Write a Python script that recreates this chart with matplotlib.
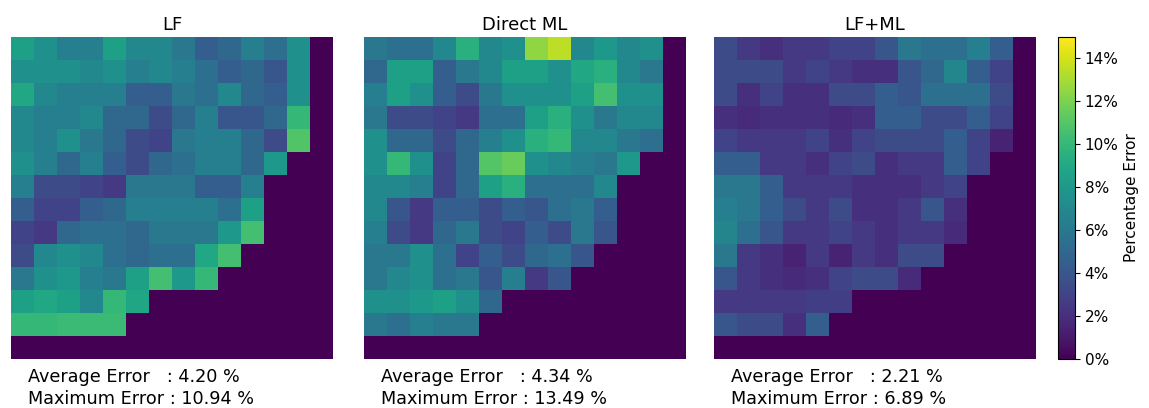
import matplotlib.pyplot as plt
import numpy as np
from matplotlib.ticker import FuncFormatter

# percentage error per grid cell (rows top -> bottom), 0 = outside domain
lf_err = [
    [8.5, 7.5, 6.5, 6.5, 8.5, 7.0, 7.0, 6.0, 4.5, 5.0, 6.5, 5.5, 7.5, 0],
    [7.5, 7.5, 7.5, 7.0, 7.5, 6.5, 7.0, 6.5, 5.5, 4.5, 5.0, 4.0, 7.5, 0],
    [9.0, 7.0, 6.5, 6.5, 6.5, 4.5, 4.5, 6.0, 5.5, 7.0, 5.0, 4.5, 7.5, 0],
    [7.0, 6.5, 6.5, 7.0, 5.0, 5.0, 3.5, 5.0, 6.5, 4.0, 4.0, 5.0, 10.0, 0],
    [7.0, 6.5, 7.5, 6.0, 5.0, 3.5, 3.0, 6.0, 6.5, 6.5, 5.0, 3.5, 10.9, 0],
    [7.5, 6.5, 5.0, 6.5, 4.5, 3.5, 5.0, 5.5, 6.5, 6.5, 5.0, 8.0, 0, 0],
    [6.5, 3.5, 3.5, 3.0, 2.5, 6.0, 6.0, 6.0, 4.5, 4.5, 6.5, 0, 0, 0],
    [4.5, 3.0, 3.0, 4.5, 5.0, 6.5, 6.5, 6.5, 6.5, 5.5, 8.5, 0, 0, 0],
    [3.0, 2.5, 5.0, 5.5, 5.5, 5.0, 6.0, 6.0, 6.0, 8.0, 10.5, 0, 0, 0],
    [3.5, 7.0, 7.5, 7.0, 5.5, 5.0, 5.5, 5.5, 9.0, 10.5, 0, 0, 0, 0],
    [6.0, 7.5, 8.0, 6.5, 6.0, 8.5, 10.5, 8.0, 10.0, 0, 0, 0, 0, 0],
    [8.5, 9.0, 8.5, 7.0, 10.0, 8.8, 0, 0, 0, 0, 0, 0, 0, 0],
    [10.0, 10.0, 10.2, 10.2, 10.2, 0, 0, 0, 0, 0, 0, 0, 0, 0],
    [0, 0, 0, 0, 0, 0, 0, 0, 0, 0, 0, 0, 0, 0],
]

ml_err = [
    [6.0, 5.5, 5.5, 7.0, 9.5, 7.0, 7.5, 12.5, 13.5, 7.0, 8.0, 7.0, 7.5, 0],
    [5.0, 8.5, 8.5, 4.5, 6.0, 7.0, 8.5, 8.5, 7.5, 9.0, 9.5, 7.0, 6.0, 0],
    [6.5, 8.5, 7.5, 4.5, 3.5, 6.0, 7.5, 7.5, 7.5, 8.5, 10.5, 7.5, 7.5, 0],
    [6.0, 3.5, 3.5, 3.0, 2.5, 5.5, 5.5, 8.5, 9.5, 7.5, 6.0, 7.0, 7.0, 0],
    [7.5, 5.0, 5.0, 3.5, 5.0, 6.5, 7.5, 9.5, 10.0, 7.0, 7.0, 6.0, 5.5, 0],
    [7.5, 10.0, 7.5, 3.0, 5.0, 11.0, 11.5, 7.5, 7.0, 6.5, 6.0, 8.0, 0, 0],
    [7.0, 7.0, 6.5, 3.0, 5.0, 8.5, 9.5, 5.5, 5.5, 5.5, 7.0, 0, 0, 0],
    [7.0, 4.0, 2.5, 4.5, 4.5, 3.5, 4.5, 4.0, 5.5, 6.0, 4.5, 0, 0, 0],
    [6.5, 3.5, 2.5, 5.0, 6.0, 3.5, 3.0, 4.5, 3.5, 6.0, 4.0, 0, 0, 0],
    [6.0, 6.0, 7.5, 5.5, 3.0, 4.5, 3.5, 5.0, 5.5, 4.0, 0, 0, 0, 0],
    [6.0, 7.0, 7.5, 5.5, 6.0, 4.0, 6.5, 2.5, 4.0, 0, 0, 0, 0, 0],
    [7.5, 7.5, 8.0, 8.5, 7.5, 5.0, 0, 0, 0, 0, 0, 0, 0, 0],
    [6.0, 5.5, 6.5, 6.0, 6.0, 0, 0, 0, 0, 0, 0, 0, 0, 0],
    [0, 0, 0, 0, 0, 0, 0, 0, 0, 0, 0, 0, 0, 0],
]

lfml_err = [
    [3.5, 2.5, 2.0, 2.5, 2.5, 3.0, 3.0, 4.0, 6.0, 5.5, 5.5, 6.5, 4.5, 0],
    [3.5, 3.5, 3.5, 2.5, 3.0, 2.5, 2.0, 2.0, 4.0, 5.0, 6.9, 4.5, 3.0, 0],
    [3.5, 2.0, 3.0, 2.0, 2.0, 3.5, 3.5, 4.5, 4.0, 5.5, 5.5, 5.5, 3.5, 0],
    [2.0, 1.8, 2.0, 2.0, 2.0, 1.8, 2.0, 4.5, 4.5, 3.5, 3.5, 4.5, 3.0, 0],
    [3.0, 2.5, 2.5, 2.5, 3.0, 2.0, 3.0, 3.5, 3.5, 3.5, 4.5, 3.0, 1.5, 0],
    [4.5, 4.5, 2.5, 2.5, 2.0, 3.0, 3.5, 2.0, 2.5, 2.5, 4.5, 3.0, 0, 0],
    [6.0, 6.0, 4.5, 2.5, 2.5, 2.5, 2.0, 2.0, 2.0, 2.5, 3.0, 0, 0, 0],
    [6.5, 6.0, 4.5, 3.5, 2.5, 3.5, 2.0, 2.0, 2.5, 4.0, 2.0, 0, 0, 0],
    [6.8, 5.5, 4.0, 2.5, 2.5, 3.0, 2.5, 2.0, 2.5, 2.5, 1.8, 0, 0, 0],
    [6.0, 2.5, 2.0, 1.5, 2.5, 1.5, 2.5, 2.0, 3.5, 3.5, 0, 0, 0, 0],
    [4.0, 2.5, 2.0, 1.8, 2.0, 3.0, 3.5, 3.5, 1.8, 0, 0, 0, 0, 0],
    [2.5, 2.5, 2.5, 2.5, 2.8, 2.8, 0, 0, 0, 0, 0, 0, 0, 0],
    [4.0, 3.5, 3.5, 2.0, 4.5, 0, 0, 0, 0, 0, 0, 0, 0, 0],
    [0, 0, 0, 0, 0, 0, 0, 0, 0, 0, 0, 0, 0, 0],
]

titles = ['LF', 'Direct ML', 'LF+ML']
avg_err = [4.20, 4.34, 2.21]
max_err = [10.94, 13.49, 6.89]
grids = [lf_err, ml_err, lfml_err]

fig = plt.figure(figsize=(11.49, 4.08), dpi=100)

lefts = [11 / 1149, 364 / 1149, 714 / 1149]
bottom = 49 / 408
w = 322 / 1149
h = 322 / 408

for i in range(3):
    ax = fig.add_axes([lefts[i], bottom, w, h])
    im = ax.imshow(np.array(grids[i]), cmap='viridis', vmin=0, vmax=15,
                   interpolation='nearest', aspect='auto')
    ax.axis('off')
    ax.set_title(titles[i], fontsize=13, pad=5)
    txt = f"Average Error   : {avg_err[i]:.2f} %\nMaximum Error : {max_err[i]:.2f} %"
    ax.text(0.052, -0.027, txt, transform=ax.transAxes, ha='left', va='top',
            fontsize=12.7, linespacing=1.3)

cax = fig.add_axes([1058 / 1149, bottom, 17 / 1149, h])
cb = fig.colorbar(im, cax=cax, ticks=np.arange(0, 15, 2))
cb.ax.yaxis.set_major_formatter(FuncFormatter(lambda v, p: f"{v:.0f}%"))
cb.ax.tick_params(labelsize=11)
cb.set_label('Percentage Error', fontsize=11)

fig.savefig('out.png', dpi=100)
